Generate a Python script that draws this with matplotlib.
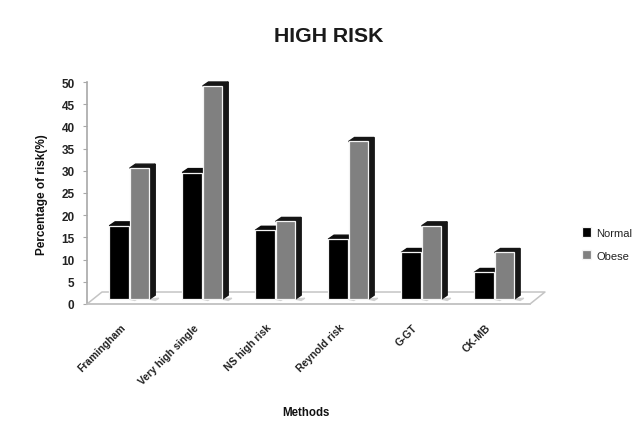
#!/usr/bin/env python3
# high risk bars, fake excel style 3d
import numpy as np
import matplotlib
matplotlib.use("Agg")
import matplotlib.pyplot as plt

plt.rcParams['font.family'] = ['Liberation Sans', 'DejaVu Sans']

categories = ["Framingham", "Very high single", "NS high risk", "Reynold risk", "G-GT", "CK-MB"]
normal = [16.5, 28.5, 15.5, 13.5, 10.5, 6]
obese = [29.5, 48, 17.5, 35.5, 16.5, 10.5]
yticks = [0, 5, 10, 15, 20, 25, 30, 35, 40, 45, 50]

GRID = '#c4c4c4'
W = 0.27        # bar width
DX = 0.08       # side face depth
DY = 0.9        # top face depth
BASE = 1.1      # front of bars sits above the floor edge


def bar3d(ax, xs, vals, color, side, label):
    bars = ax.bar(xs, vals, W, bottom=BASE, color=color, edgecolor='#f4f4f4',
                  linewidth=0.9, label=label, zorder=3)
    for x, v in zip(xs, vals):
        r = x + W / 2
        l = x - W / 2
        t = BASE + v
        ax.fill([r, r + DX, r + DX, r], [BASE, BASE + DY, t + DY, t], color=side,
                clip_on=False, zorder=2)
        ax.fill([l, l + DX, r + DX, r], [t, t + DY, t + DY, t], color=side,
                clip_on=False, zorder=2)
        # little shadow on the floor
        ax.fill([r, r + DX + 0.05, r + DX], [BASE, BASE + 0.2, BASE - 0.3],
                color='#d0d0d0', clip_on=False, zorder=1)
    return bars


def main():
    fig = plt.figure(figsize=(6.43, 4.35), dpi=100)
    ax = fig.add_axes([87 / 643, 130 / 435, 443 / 643, 222 / 435])
    ax.set_xlim(-0.58, 5.49)
    ax.set_ylim(0, 50)

    x = np.arange(len(categories))
    bar3d(ax, x - 0.14, normal, 'black', '#0c0c0c', 'Normal')
    bar3d(ax, x + 0.14, obese, '#808080', '#161616', 'Obese')

    # floor
    fx = [-0.58, 5.49, 5.695, -0.375, -0.58]
    fy = [0, 0, 2.7, 2.7, 0]
    ax.plot(fx, fy, color=GRID, lw=1.1, clip_on=False, zorder=1)

    for s in ['top', 'right']:
        ax.spines[s].set_visible(False)
    ax.spines['left'].set_color('#a8a8a8')
    ax.spines['bottom'].set_color(GRID)
    ax.spines['left'].set_linewidth(1.2)
    ax.spines['bottom'].set_linewidth(1.2)

    ax.set_yticks(yticks)
    ax.set_yticklabels([str(t) for t in yticks], fontsize=8.5, fontweight='bold', color='#222222')
    ax.tick_params(axis='y', length=3, width=0.8, color='#a8a8a8', pad=6)

    ax.set_xticks(x - 0.12)
    ax.set_xticklabels(categories, rotation=45, ha='right', rotation_mode='anchor',
                       fontsize=7.5, fontweight='bold', color='#222222')
    ax.tick_params(axis='x', length=0, pad=13)

    fig.text(329 / 643, 1 - 37 / 435, "HIGH RISK", ha='center', va='center',
             fontsize=15.3, fontweight='bold', color='#1a1a1a')
    fig.text(42 / 643, 1 - 195 / 435, "Percentage of risk(%)", rotation=90, ha='center',
             va='center', fontsize=8.5, fontweight='bold', color='#111111')
    fig.text(306 / 643, 1 - 413 / 435, "Methods", ha='center', va='center',
             fontsize=8.3, fontweight='bold', color='#111111')

    ax.legend(loc='center left', bbox_to_anchor=(572 / 643, 1 - 245 / 435),
              bbox_transform=fig.transFigure, frameon=False, fontsize=8,
              handlelength=0.8, handleheight=0.9, handletextpad=0.5, labelspacing=1.1,
              labelcolor='#222222')

    fig.savefig("out.png", dpi=100)


if __name__ == "__main__":
    main()
